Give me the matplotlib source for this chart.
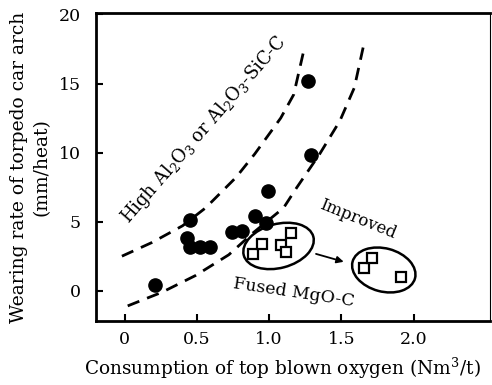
import matplotlib
matplotlib.use("Agg")
import matplotlib.pyplot as plt
from matplotlib.patches import Ellipse
from matplotlib.transforms import ScaledTranslation

plt.rcParams['font.family'] = ['DejaVu Serif']
plt.rcParams['mathtext.fontset'] = 'dejavuserif'

# conventional lining (high alumina / alumina-SiC-C)
oxy_conv = [1.27, 1.29, 0.99, 0.45, 0.90, 0.98, 0.74, 0.81, 0.43, 0.45, 0.52, 0.59, 0.21]
wear_conv = [15.2, 9.85, 7.2, 5.1, 5.4, 4.9, 4.25, 4.35, 3.85, 3.15, 3.15, 3.15, 0.4]

# fused MgO-C lining
oxy_mgo = [0.89, 0.95, 1.08, 1.12, 1.15, 1.655, 1.71, 1.91]
wear_mgo = [2.65, 3.35, 3.3, 2.8, 4.2, 1.65, 2.4, 1.0]

# guide curves
upper_x = [-0.02, 0.19, 0.40, 0.56, 0.77, 0.90, 1.08, 1.17, 1.24]
upper_y = [2.5, 3.5, 4.7, 6.0, 8.2, 9.9, 12.5, 14.2, 17.4]
lower_x = [0.02, 0.26, 0.49, 0.72, 0.89, 1.10, 1.19, 1.35, 1.49, 1.59, 1.655]
lower_y = [-1.1, -0.1, 1.1, 2.6, 4.2, 6.0, 7.45, 9.9, 12.3, 14.7, 17.8]

xticks = [0, 0.5, 1.0, 1.5, 2.0]
xticklabels = ['0', '0.5', '1.0', '1.5', '2.0']
yticks = [0, 5, 10, 15, 20]

fig = plt.figure(figsize=(4.92, 3.85), dpi=100)
ax = fig.add_axes([0.195, 0.166, 0.801, 0.800])

ax.plot(upper_x, upper_y, color='black', lw=2.0, ls=(0, (4.5, 3)))
ax.plot(lower_x, lower_y, color='black', lw=2.0, ls=(0, (4.5, 3)))

ax.plot(oxy_conv, wear_conv, 'o', ms=9.5, color='black')
ax.plot(oxy_mgo, wear_mgo, 's', ms=6.5, mfc='white', mec='black', mew=1.6)

ax.set_xlim(-0.2, 2.53)
ax.set_ylim(-2.2, 20.1)

# groups circled around the MgO-C points
for cx, cy, w, h, ang in [(1.065, 3.24, 0.72, 0.44, 15), (1.794, 1.50, 0.646, 0.432, -15)]:
    tr = fig.dpi_scale_trans + ScaledTranslation(cx, cy, ax.transData)
    ax.add_patch(Ellipse((0, 0), w, h, angle=ang, fill=False, lw=1.8,
                         color='black', transform=tr))

ax.annotate('', xy=(1.535, 2.04), xytext=(1.306, 2.72),
            arrowprops=dict(arrowstyle='-|>', color='black', lw=1.3,
                            mutation_scale=10))

ax.text(0.549, 11.66, r'High Al$_2$O$_3$ or Al$_2$O$_3$-SiC-C', rotation=49,
        ha='center', va='center', fontsize=13, rotation_mode='anchor')
ax.text(1.615, 5.19, 'Improved', rotation=-22, ha='center', va='center',
        fontsize=12, rotation_mode='anchor')
ax.text(1.169, -0.12, 'Fused MgO-C', rotation=-8.5, ha='center', va='center',
        fontsize=12.5, rotation_mode='anchor')

ax.set_xticks(xticks)
ax.set_xticklabels(xticklabels)
ax.set_yticks(yticks)
ax.tick_params(direction='in', length=5, width=1.5, labelsize=12.5)
ax.tick_params(axis='y', pad=11)
ax.tick_params(axis='x', pad=7)
for s in ['left', 'bottom', 'top']:
    ax.spines[s].set_linewidth(2.0)
ax.spines['right'].set_linewidth(0.8)

ax.set_xlabel('Consumption of top blown oxygen (Nm$^3$/t)', fontsize=13.3, labelpad=6)
ax.xaxis.label.set_x(0.474)
ax.set_ylabel('Wearing rate of torpedo car arch\n(mm/heat)', fontsize=13.5,
              labelpad=6, linespacing=1.3)

fig.savefig('out.png', dpi=100)
